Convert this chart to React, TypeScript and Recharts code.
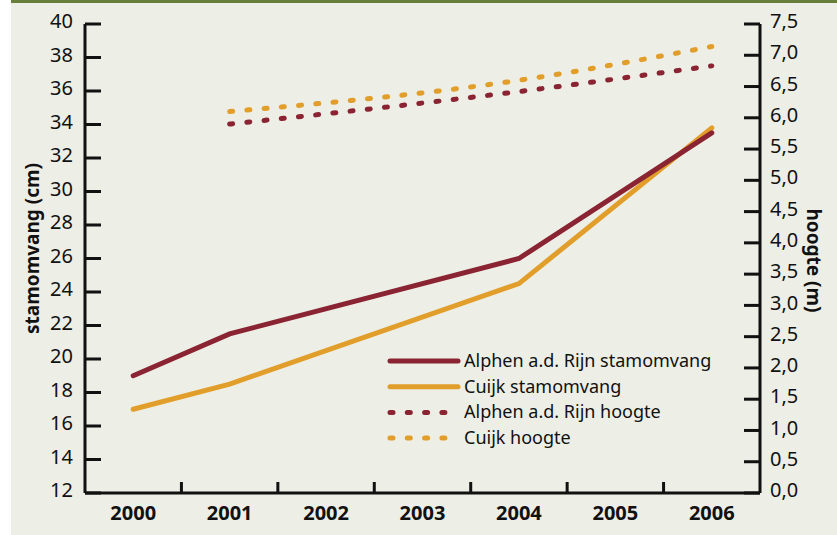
import { LineChart, Line, XAxis, YAxis, Legend } from 'recharts';

const years = ['2000', '2001', '2002', '2003', '2004', '2005', '2006'];
const alphenStam = [19, 21.5, null, null, 26, null, 33.5];
const cuijkStam = [17, 18.5, null, null, 24.5, null, 33.8];
const alphenHoogte = [null, 5.9, null, null, 6.42, null, 6.83];
const cuijkHoogte = [null, 6.1, null, null, 6.6, null, 7.14];

const leftTicks = [12, 14, 16, 18, 20, 22, 24, 26, 28, 30, 32, 34, 36, 38, 40];
const rightTicks = [0, 0.5, 1, 1.5, 2, 2.5, 3, 3.5, 4, 4.5, 5, 5.5, 6, 6.5, 7, 7.5];
// labels at whole years, small tick marks between years
const xTicks = [0, 0.5, 1, 1.5, 2, 2.5, 3, 3.5, 4, 4.5, 5, 5.5, 6];

const MAROON = '#8a2332';
const ORANGE = '#e29e2a';
const INK = '#111';
const FONT = '"Noto Sans", "Open Sans", sans-serif';

const data = years.map((year, i) => ({
  idx: i,
  year,
  alphenStam: alphenStam[i],
  cuijkStam: cuijkStam[i],
  alphenHoogte: alphenHoogte[i],
  cuijkHoogte: cuijkHoogte[i],
}));

const legendItems = [
  { name: 'Alphen a.d. Rijn stamomvang', color: MAROON, dashed: false },
  { name: 'Cuijk stamomvang', color: ORANGE, dashed: false },
  { name: 'Alphen a.d. Rijn hoogte', color: MAROON, dashed: true },
  { name: 'Cuijk hoogte', color: ORANGE, dashed: true },
];

const XTick = (props: any) => {
  const { x, y, payload } = props;
  const v = payload.value;
  if (Number.isInteger(v)) {
    return (
      <text x={x} y={y + 27} textAnchor="middle" fontFamily={FONT} fontWeight="bold" fontSize={20} fill={INK}>
        {years[v]}
      </text>
    );
  }
  return <line x1={x} x2={x} y1={y} y2={y - 11} stroke={INK} strokeWidth={3} />;
};

const ChartLegend = () => (
  <svg width={360} height={110}>
    {legendItems.map((item, i) => {
      const cy = 12 + i * 25.7;
      return (
        <g key={item.name}>
          <line
            x1={3}
            x2={71}
            y1={cy}
            y2={cy}
            stroke={item.color}
            strokeWidth={5}
            strokeLinecap="round"
            strokeDasharray={item.dashed ? '3 14.3' : undefined}
          />
          <text x={77} y={cy + 6} fontFamily={FONT} fontSize={18} fill={INK}>
            {item.name}
          </text>
        </g>
      );
    })}
  </svg>
);

export default function App() {
  return (
    <div style={{ position: 'absolute', left: 0, top: 0, width: 837, height: 535, background: '#fff' }}>
      <div
        style={{
          position: 'absolute',
          left: 11,
          top: 0,
          width: 826,
          height: 532,
          background: '#edeee6',
          borderTop: '3px solid #687f3c',
        }}
      />
      <div style={{ position: 'absolute', left: 0, top: 0 }}>
        <LineChart width={837} height={535} data={data} margin={{ top: 24, right: 0, bottom: 0, left: 0 }}>
          <XAxis
            dataKey="idx"
            type="number"
            domain={[-0.5, 6.5]}
            ticks={xTicks}
            interval={0}
            tick={<XTick />}
            tickLine={false}
            tickSize={0}
            tickMargin={0}
            height={42}
            axisLine={{ stroke: INK, strokeWidth: 3 }}
          />
          <YAxis
            yAxisId="left"
            orientation="left"
            width={85}
            domain={[12, 40]}
            ticks={leftTicks}
            interval={0}
            tickSize={-16}
            tickMargin={28}
            tickLine={{ stroke: INK, strokeWidth: 3 }}
            axisLine={{ stroke: INK, strokeWidth: 3 }}
            tick={{ fill: INK, fontSize: 20, fontFamily: FONT, dy: -3 }}
            label={{
              content: ({ viewBox }: any) => {
                const cx = viewBox.x + 32;
                const cy = viewBox.y + viewBox.height / 2 - 10;
                return (
                  <text
                    x={cx}
                    y={cy}
                    transform={`rotate(-90, ${cx}, ${cy})`}
                    textAnchor="middle"
                    dominantBaseline="central"
                    fontFamily={FONT}
                    fontWeight="bold"
                    fontSize={19}
                    fill={INK}
                  >
                    stamomvang (cm)
                  </text>
                );
              },
            }}
          />
          <YAxis
            yAxisId="right"
            orientation="right"
            width={77}
            domain={[0, 7.5]}
            ticks={rightTicks}
            interval={0}
            tickSize={-16}
            tickMargin={26}
            tickLine={{ stroke: INK, strokeWidth: 3 }}
            axisLine={{ stroke: INK, strokeWidth: 3 }}
            tick={{ fill: INK, fontSize: 20, fontFamily: FONT, dy: -3 }}
            tickFormatter={(v: number) => v.toFixed(1).replace('.', ',')}
            label={{
              content: ({ viewBox }: any) => {
                const cx = viewBox.x + 54;
                const cy = viewBox.y + viewBox.height / 2 + 2;
                return (
                  <text
                    x={cx}
                    y={cy}
                    transform={`rotate(90, ${cx}, ${cy})`}
                    textAnchor="middle"
                    dominantBaseline="central"
                    fontFamily={FONT}
                    fontWeight="bold"
                    fontSize={19}
                    fill={INK}
                  >
                    hoogte (m)
                  </text>
                );
              },
            }}
          />
          <Legend
            layout="vertical"
            align="center"
            verticalAlign="middle"
            content={() => <ChartLegend />}
            wrapperStyle={{ position: 'absolute', left: 387, top: 349, width: 360 }}
          />
          <Line yAxisId="right" type="monotone" dataKey="cuijkHoogte" stroke={ORANGE} strokeWidth={5} strokeDasharray="3 14.3" strokeLinecap="round" dot={false} connectNulls isAnimationActive={false} />
          <Line yAxisId="right" type="monotone" dataKey="alphenHoogte" stroke={MAROON} strokeWidth={5} strokeDasharray="3 14.3" strokeLinecap="round" dot={false} connectNulls isAnimationActive={false} />
          <Line yAxisId="left" type="linear" dataKey="cuijkStam" stroke={ORANGE} strokeWidth={5} strokeLinecap="round" dot={false} connectNulls isAnimationActive={false} />
          <Line yAxisId="left" type="linear" dataKey="alphenStam" stroke={MAROON} strokeWidth={5} strokeLinecap="round" dot={false} connectNulls isAnimationActive={false} />
        </LineChart>
      </div>
    </div>
  );
}
